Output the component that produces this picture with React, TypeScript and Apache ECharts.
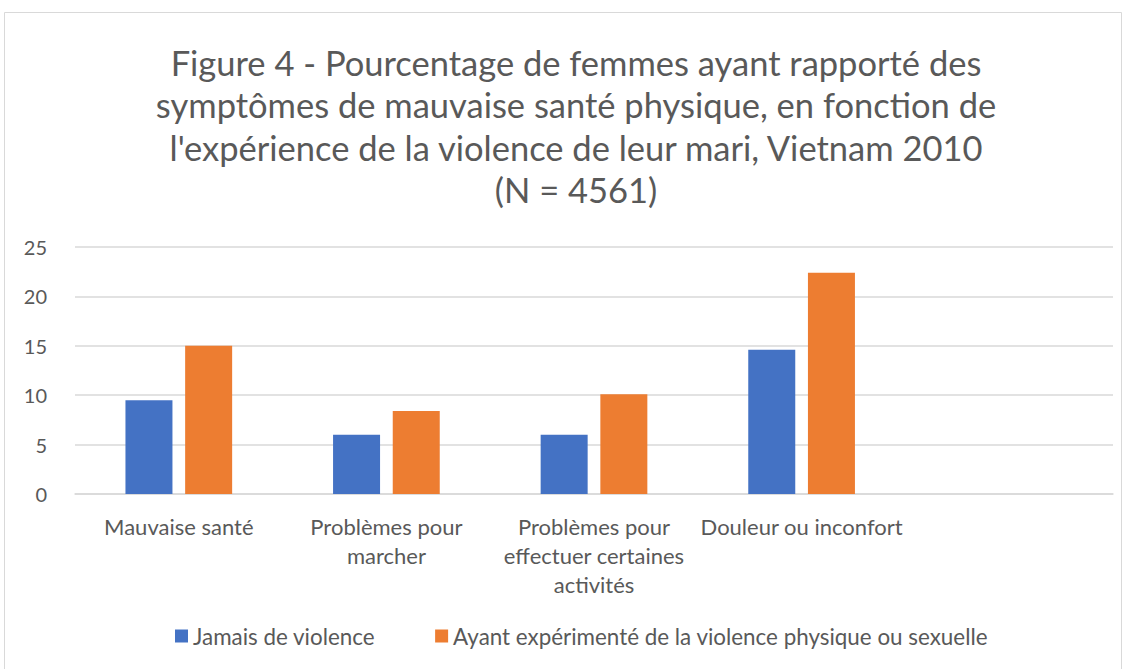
import React, { useEffect, useRef } from "react";
import * as echarts from "echarts";

const categories = [
  "Mauvaise santé",
  "Problèmes pour\nmarcher",
  "Problèmes pour\neffectuer certaines\nactivités",
  "Douleur ou inconfort",
  "",
];
const neverViolence = [9.5, 6.0, 6.0, 14.6, null];
const experiencedViolence = [15.0, 8.4, 10.1, 22.4, null];
const seriesNames = [
  "Jamais de violence",
  "Ayant expérimenté de la violence physique ou sexuelle",
];
const titleText =
  "Figure 4 - Pourcentage de femmes ayant rapporté des\nsymptômes de mauvaise santé physique, en fonction de\nl'expérience de la violence de leur mari, Vietnam 2010\n(N = 4561)";

const FONT = "Lato, 'Noto Sans', sans-serif";
const GREY = "#595959";

export default function App() {
  const ref = useRef<HTMLDivElement>(null);
  useEffect(() => {
    if (!ref.current) return;
    const chart = echarts.init(ref.current, undefined, { renderer: "svg" });
    chart.setOption({
      animation: false,
      backgroundColor: "#ffffff",
      textStyle: { fontFamily: FONT },
      title: {
        text: titleText,
        left: 571,
        top: 36,
        textAlign: "center",
        textStyle: {
          fontFamily: FONT,
          fontSize: 34.5,
          fontWeight: "normal",
          color: GREY,
          lineHeight: 42.5,
        },
      },
      graphic: [
        {
          type: "rect",
          shape: { x: 4.5, y: 12.5, width: 1117, height: 700 },
          style: { fill: "none", stroke: "#d9d9d9", lineWidth: 1 },
          silent: true,
        },
      ],
      legend: {
        bottom: 17,
        left: 170,
        itemWidth: 13,
        itemHeight: 13,
        itemGap: 60,
        icon: "rect",
        textStyle: { fontFamily: FONT, fontSize: 22.4, color: GREY },
        data: seriesNames,
      },
      grid: { left: 75, right: 19, top: 247, bottom: 175 },
      xAxis: {
        type: "category",
        data: categories,
        axisLine: { lineStyle: { color: "#d9d9d9", width: 1.5 } },
        axisTick: { show: false },
        axisLabel: {
          interval: 0,
          fontFamily: FONT,
          fontSize: 22,
          color: GREY,
          lineHeight: 29,
          margin: 18,
        },
      },
      yAxis: {
        type: "value",
        min: 0,
        max: 25,
        interval: 5,
        axisLine: { show: false },
        axisTick: { show: false },
        splitLine: { lineStyle: { color: "#d9d9d9", width: 1.5 } },
        axisLabel: { fontFamily: FONT, fontSize: 20, color: GREY, margin: 28 },
      },
      series: [
        {
          name: seriesNames[0],
          type: "bar",
          data: neverViolence,
          barWidth: 47,
          barGap: "27%",
          itemStyle: { color: "#4472c4" },
        },
        {
          name: seriesNames[1],
          type: "bar",
          data: experiencedViolence,
          barWidth: 47,
          barGap: "27%",
          itemStyle: { color: "#ed7d31" },
        },
      ],
    });
    return () => chart.dispose();
  }, []);
  return (
    <div
      ref={ref}
      style={{ position: "fixed", left: 0, top: 0, width: 1132, height: 669 }}
    />
  );
}
